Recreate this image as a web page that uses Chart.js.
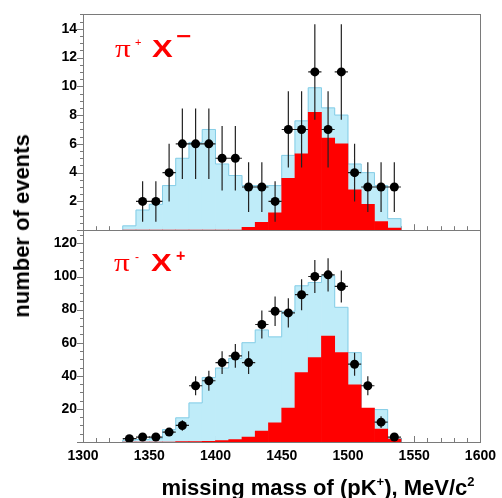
<!DOCTYPE html>
<html>
<head>
<meta charset="utf-8">
<script src="https://cdn.jsdelivr.net/npm/chart.js@4.4.1/dist/chart.umd.min.js"></script>
<style>
  html, body { margin: 0; padding: 0; background: #fff; }
  #wrap { position: relative; width: 502px; height: 498px; overflow: hidden; }
  #chart { position: absolute; left: 0; top: 0; }
  .txt { position: absolute; line-height: 1; white-space: nowrap; color: #000; }
  .ttl { font: bold 22px "Liberation Sans", Arial, sans-serif; }
  .ttl sup { font-size: 13px; vertical-align: 0; position: relative; top: -9px; }
  .red { color: #ff0000; transform-origin: left center; }
  .pi { font: 26px "Liberation Serif", serif; }
  .big { font: bold 23px "Liberation Sans", Arial, sans-serif; }
</style>
</head>
<body>
<div id="wrap">
  <canvas id="chart" width="502" height="498"></canvas>
  <div class="txt ttl" style="left:22px; top:226px; transform: translate(-50%,-50%) rotate(-90deg);">number of events</div>
  <div class="txt ttl" style="left:318px; top:475px; transform: translateX(-50%);">missing mass of (pK<sup>+</sup>), MeV/c<sup>2</sup></div>

  <div class="txt red pi" style="left:115px; top:34px; transform: scaleX(1.2);">π</div>
  <div class="txt red" style="left:135px; top:36px; font: 11px 'Liberation Sans', sans-serif;">+</div>
  <div class="txt red big" style="left:152px; top:36px; transform: scaleX(1.35);">X</div>
  <div class="txt red" style="left:176px; top:25px; font: bold 20px 'Liberation Sans', sans-serif; transform: scaleX(1.3);">−</div>

  <div class="txt red pi" style="left:114px; top:248px; transform: scaleX(1.2);">π</div>
  <div class="txt red" style="left:135px; top:250px; font: 12px 'Liberation Sans', sans-serif;">-</div>
  <div class="txt red big" style="left:151px; top:250px; transform: scaleX(1.35);">X</div>
  <div class="txt red" style="left:176px; top:247px; font: bold 16px 'Liberation Sans', sans-serif;">+</div>
</div>

<script>
// bin centres, 10 MeV wide
const bins = [1335, 1345, 1355, 1365, 1375, 1385, 1395, 1405, 1415, 1425, 1435,
              1445, 1455, 1465, 1475, 1485, 1495, 1505, 1515, 1525, 1535];

// upper panel: pi+ X-
const topSim = [0.3, 1.4, 1.8, 3.1, 5.0, 6.1, 7.0, 4.6, 3.8, 3.1, 3.1,
                3.1, 5.2, 7.6, 9.9, 8.5, 8.0, 4.6, 4.0, 3.1, 0.8];
const topSig = [0, 0, 0, 0, 0, 0, 0, 0, 0, 0.2, 0.55,
                1.2, 3.6, 5.3, 8.2, 6.4, 6.0, 2.8, 1.8, 0.6, 0.15];
const topMass = [1345, 1355, 1365, 1375, 1385, 1395, 1405, 1415, 1425, 1435,
                 1445, 1455, 1465, 1475, 1485, 1495, 1505, 1515, 1525, 1535];
const topCounts = [2, 2, 4, 6, 6, 6, 5, 5, 3, 3, 2, 7, 7, 11, 7, 11, 4, 3, 3, 3];
const topErr = [1.41, 1.41, 2, 2.45, 2.45, 2.45, 2.24, 2.24, 1.73, 1.73,
                1.41, 2.65, 2.65, 3.32, 2.65, 3.32, 2, 1.73, 1.73, 1.73];

// lower panel: pi- X+
const botSim = [1.2, 1.5, 2, 7.5, 14.6, 23.6, 39, 44.7, 50.5, 60, 67.7,
                63.5, 79, 94.4, 96.4, 100.4, 81.4, 54, 20.2, 19.6, 2.2];
const botSig = [0, 0, 0, 0, 0.3, 0.3, 0.4, 0.8, 1.5, 3, 6.6,
                11.6, 20.5, 42, 51, 64, 54, 34.5, 20.5, 7.8, 1.8];
const botMass = [1335, 1345, 1355, 1365, 1375, 1385, 1395, 1405, 1415, 1425, 1435,
                 1445, 1455, 1465, 1475, 1485, 1495, 1505, 1515, 1525, 1535];
const botCounts = [2, 3, 3, 6, 10, 34, 37, 48, 52, 48, 71, 79, 78, 89, 100, 101, 94, 47, 34, 12, 3];
const botErr = [1.4, 1.7, 1.7, 2.4, 3.2, 5.8, 6.1, 6.9, 7.2, 6.9, 8.4,
                8.9, 8.8, 9.4, 10, 10, 9.7, 6.9, 5.8, 3.5, 1.7];

const xTicks = [1300, 1350, 1400, 1450, 1500, 1550, 1600];

const halfBin = 5;
const BLUE = '#bfecf9';
const BLUE_EDGE = '#86cde6';
const RED = '#ff0000';
const FONT = '"Liberation Sans", Arial, sans-serif';

function pts(xs, ys) {
  return xs.map((x, i) => ({ x: x, y: ys[i] }));
}

// step outline along the bin edges of a histogram
function outline(vals) {
  const d = [{ x: bins[0] - halfBin, y: 0 }];
  vals.forEach((v, i) => d.push({ x: bins[i] - halfBin, y: v }));
  d.push({ x: bins[bins.length - 1] + halfBin, y: 0 });
  return d;
}

function histSets(axis, sim, sig, mass, counts, err) {
  return [
    { type: 'scatter', data: pts(mass, counts), errors: err, yAxisID: axis, order: 0,
      pointRadius: 4.5, pointHoverRadius: 4.5, backgroundColor: '#000', borderColor: '#000', borderWidth: 0 },
    { type: 'bar', data: pts(bins, sig), yAxisID: axis, order: 1, backgroundColor: RED,
      barPercentage: 1, categoryPercentage: 1, grouped: false, borderWidth: 0 },
    { type: 'line', data: outline(sim), yAxisID: axis, order: 2, stepped: true,
      borderColor: BLUE_EDGE, borderWidth: 1, pointRadius: 0, fill: false },
    { type: 'bar', data: pts(bins, sim), yAxisID: axis, order: 3, backgroundColor: BLUE,
      barPercentage: 1, categoryPercentage: 1, grouped: false, borderWidth: 0 }
  ];
}

const minorStep = { yTop: 0.5, yBot: 5 };

const errorBars = {
  id: 'errorBars',
  beforeDatasetDraw(chart, args) {
    const ds = chart.data.datasets[args.index];
    if (!ds.errors) return;
    const ctx = chart.ctx;
    const xs = chart.scales[args.meta.xAxisID], ys = chart.scales[args.meta.yAxisID];
    ctx.save();
    ctx.strokeStyle = '#222';
    ctx.lineWidth = 1.2;
    ctx.beginPath();
    ds.data.forEach((p, i) => {
      const e = ds.errors[i];
      const px = xs.getPixelForValue(p.x), py = ys.getPixelForValue(p.y);
      ctx.moveTo(px, ys.getPixelForValue(p.y - e));
      ctx.lineTo(px, ys.getPixelForValue(p.y + e));
      ctx.moveTo(xs.getPixelForValue(p.x - halfBin), py);
      ctx.lineTo(xs.getPixelForValue(p.x + halfBin), py);
    });
    ctx.stroke();
    ctx.restore();
  }
};

// ROOT-like frame: outer y ticks, inner x ticks
const frameTicks = {
  id: 'frameTicks',
  beforeDatasetsDraw(chart) {
    const ctx = chart.ctx, x = chart.scales.x;
    ctx.save();
    ctx.strokeStyle = '#7a7a7a';
    ctx.lineWidth = 1;
    ctx.beginPath();
    ['yTop', 'yBot'].forEach(id => {
      const s = chart.scales[id];
      const major = s.options.ticks.stepSize;
      for (let v = s.min; v <= s.max + 1e-6; v += minorStep[id]) {
        const py = Math.round(s.getPixelForValue(v)) + 0.5;
        const isMajor = Math.abs(v / major - Math.round(v / major)) < 1e-6;
        ctx.moveTo(x.left - (isMajor ? 6 : 3), py);
        ctx.lineTo(x.left, py);
      }
      for (let m = x.min; m <= x.max; m += 10) {
        const px = Math.round(x.getPixelForValue(m)) + 0.5;
        ctx.moveTo(px, s.bottom);
        ctx.lineTo(px, s.bottom - (m % 50 === 0 ? 6 : 4));
      }
    });
    ctx.stroke();
    ctx.restore();
  },
  afterDatasetsDraw(chart) {
    const ctx = chart.ctx, x = chart.scales.x;
    ctx.save();
    ctx.strokeStyle = '#7a7a7a';
    ctx.lineWidth = 1;
    ['yTop', 'yBot'].forEach(id => {
      const s = chart.scales[id];
      ctx.strokeRect(Math.round(x.left) + 0.5, Math.round(s.top) + 0.5,
                     Math.round(x.right - x.left), Math.round(s.bottom - s.top));
    });
    ctx.restore();
  }
};

const tickFont = { family: FONT, size: 14, weight: 'bold' };

new Chart(document.getElementById('chart'), {
  type: 'bar',
  data: {
    datasets: [
      ...histSets('yTop', topSim, topSig, topMass, topCounts, topErr),
      ...histSets('yBot', botSim, botSig, botMass, botCounts, botErr)
    ]
  },
  options: {
    responsive: false,
    animation: false,
    layout: { padding: { top: 10, right: 20, left: 0, bottom: 0 } },
    plugins: { legend: { display: false }, tooltip: { enabled: false } },
    scales: {
      x: {
        type: 'linear', position: 'bottom', min: 1300, max: 1600, offset: false,
        grid: { display: false, drawTicks: false, offset: false }, border: { display: false },
        afterBuildTicks: s => { s.ticks = xTicks.map(v => ({ value: v })); },
        ticks: { font: tickFont, color: '#000', padding: 6, maxRotation: 0, autoSkip: false,
                 callback: v => String(v) },
        afterFit: s => { s.height = 56; }
      },
      // stacked panels: the scale listed last is placed on top
      yBot: {
        type: 'linear', position: 'left', stack: 'panels', stackWeight: 214,
        min: 0, max: 128,
        grid: { display: false, drawTicks: false }, border: { display: false },
        ticks: { stepSize: 20, includeBounds: false, autoSkip: false, font: tickFont, color: '#000', padding: 6,
                 callback: v => (v === 0 ? '' : String(v)) },
        afterFit: s => { s.width = 83; }
      },
      yTop: {
        type: 'linear', position: 'left', stack: 'panels', stackWeight: 218,
        min: 0, max: 15,
        grid: { display: false, drawTicks: false }, border: { display: false },
        ticks: { stepSize: 2, includeBounds: false, autoSkip: false, font: tickFont, color: '#000', padding: 6,
                 callback: v => (v === 0 ? '' : String(v)) },
        afterFit: s => { s.width = 83; }
      }
    }
  },
  plugins: [errorBars, frameTicks]
});
</script>
</body>
</html>
